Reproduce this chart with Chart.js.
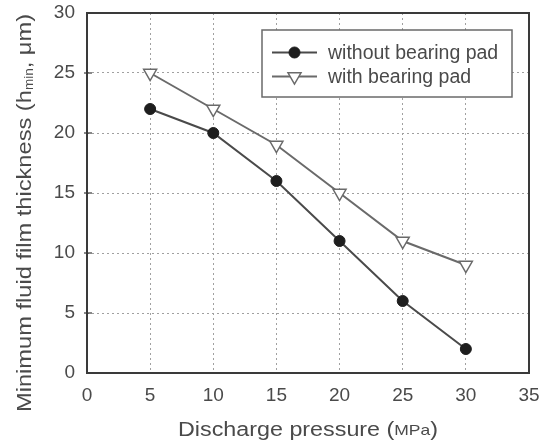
<!DOCTYPE html>
<html>
<head>
<meta charset="utf-8">
<script src="https://cdn.jsdelivr.net/npm/chart.js@4/dist/chart.umd.min.js"></script>
<style>
html,body{margin:0;padding:0;background:#fff;}
#wrap{width:546px;height:448px;position:relative;}
</style>
</head>
<body>
<div id="wrap"><canvas id="c" width="546" height="448"></canvas></div>
<script>
const pressures = [5, 10, 15, 20, 25, 30];
const withoutPad = [22, 20, 16, 11, 6, 2];
const withPad = [25, 22, 19, 15, 11, 9];
const seriesLabels = ['without bearing pad', 'with bearing pad'];
const xTitle = ['Discharge pressure (', 'MPa', ')'];
const yTitle = ['Minimum fluid film thickness (h', 'min', ', \u03bcm)'];

const FONT = '"Liberation Sans", Arial, sans-serif';
const TEXT = '#4a4a4a';

function pts(xs, ys){ return xs.map((x,i)=>({x:x, y:ys[i]})); }

// Draws mixed-size text runs fitted to a target length
function drawRuns(ctx, runs, targetLen){
  let total = 0;
  runs.forEach(r=>{ ctx.font = r.size + 'px ' + FONT; r.w = ctx.measureText(r.t).width; total += r.w; });
  const s = targetLen ? targetLen/total : 1;
  ctx.save();
  ctx.scale(s,1);
  let x = -total/2;
  runs.forEach(r=>{
    ctx.font = r.size + 'px ' + FONT;
    ctx.fillText(r.t, x, r.dy || 0);
    x += r.w;
  });
  ctx.restore();
}

const framePlugin = {
  id: 'frameAndTitles',
  afterDraw(chart){
    const ctx = chart.ctx, a = chart.chartArea;
    ctx.save();
    // frame
    ctx.strokeStyle = '#3a3a3a';
    ctx.lineWidth = 2;
    ctx.setLineDash([]);
    ctx.strokeRect(a.left, a.top, a.right - a.left, a.bottom - a.top);
    // small tick marks on y axis
    const ys = chart.scales.y;
    ctx.lineWidth = 1.2;
    for (let v = 5; v < 30; v += 5){
      const py = ys.getPixelForValue(v);
      ctx.beginPath(); ctx.moveTo(a.left - 3, py); ctx.lineTo(a.left + 5, py); ctx.stroke();
    }
    // titles
    ctx.fillStyle = TEXT;
    ctx.textBaseline = 'middle';
    ctx.textAlign = 'left';
    ctx.save();
    ctx.translate(308, 430);
    drawRuns(ctx, [{t:xTitle[0], size:20}, {t:xTitle[1], size:15, dy:1}, {t:xTitle[2], size:20}], 260);
    ctx.restore();
    ctx.save();
    ctx.translate(25, 213);
    ctx.rotate(-Math.PI/2);
    drawRuns(ctx, [{t:yTitle[0], size:21}, {t:yTitle[1], size:12, dy:5}, {t:yTitle[2], size:21}], 398);
    ctx.restore();
    // legend
    const lx = 262, ly = 30, lw = 250, lh = 67;
    ctx.fillStyle = '#fff';
    ctx.fillRect(lx, ly, lw, lh);
    ctx.strokeStyle = '#6a6a6a';
    ctx.lineWidth = 1.5;
    ctx.strokeRect(lx, ly, lw, lh);
    chart.data.datasets.forEach((ds, i)=>{
      const cy = 52.5 + i*24;
      ctx.strokeStyle = ds.borderColor;
      ctx.lineWidth = ds.borderWidth;
      ctx.beginPath(); ctx.moveTo(272, cy); ctx.lineTo(317, cy); ctx.stroke();
      ctx.fillStyle = ds.pointBackgroundColor;
      ctx.strokeStyle = ds.pointBorderColor;
      ctx.lineWidth = ds.pointBorderWidth;
      Chart.helpers.drawPoint(ctx, {pointStyle: ds.pointStyle, radius: ds.pointRadius, rotation: ds.pointRotation, borderWidth: ds.pointBorderWidth}, 294.5, cy);
      ctx.fillStyle = TEXT;
      ctx.font = '19.5px ' + FONT;
      ctx.textAlign = 'left';
      ctx.fillText(ds.label, 328, cy + 1);
    });
    ctx.restore();
  }
};

new Chart(document.getElementById('c'), {
  type: 'line',
  data: {
    datasets: [
      {
        label: seriesLabels[0],
        data: pts(pressures, withoutPad),
        borderColor: '#4a4a4a', borderWidth: 2,
        pointStyle: 'circle', pointRadius: 5.5, pointRotation: 0,
        pointBackgroundColor: '#1e1e1e', pointBorderColor: '#1e1e1e', pointBorderWidth: 1,
        fill: false, tension: 0
      },
      {
        label: seriesLabels[1],
        data: pts(pressures, withPad),
        borderColor: '#6a6a6a', borderWidth: 2,
        pointStyle: 'triangle', pointRadius: 7.5, pointRotation: 180,
        pointBackgroundColor: '#ffffff', pointBorderColor: '#6a6a6a', pointBorderWidth: 1.5,
        fill: false, tension: 0
      }
    ]
  },
  options: {
    responsive: false,
    animation: false,
    devicePixelRatio: 1,
    layout: { padding: { left: 0, top: 13, right: 17, bottom: 0 } },
    plugins: { legend: { display: false }, tooltip: { enabled: false } },
    scales: {
      x: {
        type: 'linear', min: 0, max: 35,
        afterFit(s){ s.height = 75; s.paddingLeft = 0; s.paddingRight = 0; },
        ticks: { stepSize: 5, padding: 11, color: TEXT, font: { family: FONT, size: 19 } },
        grid: { color: '#a0a0a0', lineWidth: 1, drawTicks: false },
        border: { display: false, dash: [2, 3] },
        title: { display: false }
      },
      y: {
        type: 'linear', min: 0, max: 30,
        afterFit(s){ s.width = 87; s.paddingTop = 0; s.paddingBottom = 0; },
        ticks: { stepSize: 5, padding: 12, color: TEXT, font: { family: FONT, size: 19 } },
        grid: { color: '#a0a0a0', lineWidth: 1, drawTicks: false },
        border: { display: false, dash: [2, 3] },
        title: { display: false }
      }
    }
  },
  plugins: [framePlugin]
});
</script>
</body>
</html>
